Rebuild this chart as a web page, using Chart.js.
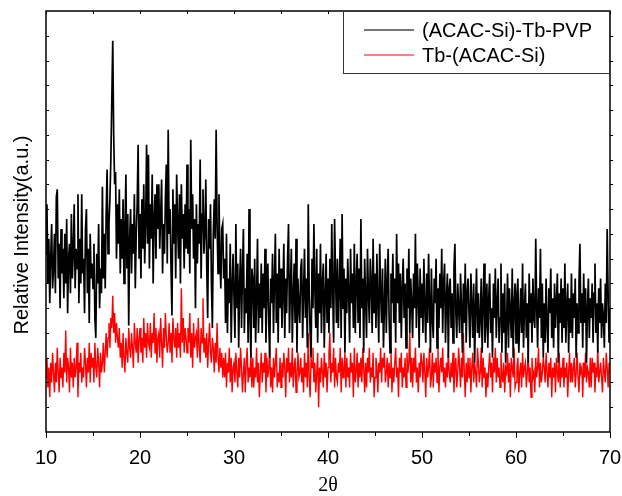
<!DOCTYPE html>
<html lang="en">
<head>
<meta charset="UTF-8">
<title>XRD (ACAC-Si)-Tb-PVP</title>
<script src="https://cdn.jsdelivr.net/npm/chart.js@4.4.1/dist/chart.umd.min.js"></script>
<style>
  body { margin: 0; background: #fff; }
  #wrap { width: 622px; height: 496px; }
</style>
</head>
<body>
<div id="wrap"><canvas id="xrd" width="622" height="496"></canvas></div>
<script>
// 2theta sampling: 10.0 .. 70.0 deg, one reading every 0.1 deg
const startAngle = 10;
const angleStep = 0.1;
const xTicks = [10, 20, 30, 40, 50, 60, 70];
const seriesNames = ['(ACAC-Si)-Tb-PVP', 'Tb-(ACAC-Si)'];
const seriesColors = ['#000000', '#ff0000'];

// (ACAC-Si)-Tb-PVP, one row per degree (arbitrary units)
const pvpCounts = [
  72, 92, 60, 78, 52, 70, 84, 58, 66, 80,
  56, 95, 98, 62, 76, 50, 82, 64, 74, 54,
  80, 60, 86, 48, 70, 76, 56, 88, 62, 72,
  92, 58, 74, 66, 96, 52, 78, 60, 96, 64,
  70, 48, 82, 90, 56, 74, 44, 80, 62, 68,
  58, 76, 46, 38, 72, 60, 84, 50, 66, 56,
  99, 62, 80, 58, 88, 106, 72, 84, 94, 110,
  134, 158, 120, 100, 105, 70, 92, 76, 98, 64,
  86, 70, 94, 60, 82, 104, 66, 88, 43, 78,
  90, 64, 84, 72, 96, 58, 80, 92, 116, 70,
  88, 62, 94, 74, 100, 68, 84, 116, 76, 112,
  66, 92, 78, 104, 60, 86, 96, 70, 100, 82,
  100, 74, 88, 102, 64, 84, 72, 94, 108, 68,
  122, 80, 90, 66, 47, 98, 76, 92, 62, 104,
  84, 70, 96, 60, 100, 78, 88, 66, 92, 74,
  108, 72, 90, 64, 118, 82, 96, 70, 86, 50,
  92, 68, 84, 76, 110, 62, 88, 98, 72, 80,
  102, 66, 46, 86, 74, 92, 60, 42, 80, 94,
  78, 122, 84, 64, 96, 70, 58, 82, 84, 62,
  70, 44, 80, 40, 62, 52, 76, 36, 58, 72,
  54, 38, 84, 50, 68, 34, 60, 74, 42, 64,
  82, 40, 58, 48, 72, 36, 90, 46, 30, 66,
  62, 42, 70, 36, 54, 78, 40, 60, 46, 68,
  40, 64, 50, 74, 36, 58, 68, 44, 30, 62,
  52, 72, 40, 60, 80, 44, 64, 36, 74, 50,
  66, 42, 56, 76, 38, 62, 48, 70, 84, 40,
  58, 74, 36, 54, 68, 44, 78, 32, 62, 50,
  44, 66, 70, 38, 56, 74, 46, 62, 34, 92,
  56, 40, 30, 70, 50, 84, 58, 42, 74, 36,
  64, 48, 76, 40, 60, 68, 34, 54, 72, 44,
  62, 40, 70, 50, 84, 56, 36, 86, 64, 44,
  70, 42, 58, 78, 38, 88, 50, 66, 32, 62,
  48, 70, 56, 36, 74, 52, 64, 42, 76, 40,
  60, 72, 44, 66, 38, 86, 50, 62, 32, 70,
  54, 38, 74, 56, 44, 70, 60, 40, 78, 48,
  64, 42, 72, 52, 36, 76, 56, 44, 66, 34,
  50, 70, 40, 60, 74, 46, 32, 64, 52, 72,
  44, 62, 36, 80, 52, 68, 44, 64, 38, 58,
  70, 46, 60, 34, 66, 50, 74, 40, 62, 52,
  38, 64, 50, 80, 42, 68, 56, 34, 66, 46,
  60, 40, 70, 50, 36, 64, 44, 72, 52, 32,
  66, 46, 38, 62, 52, 70, 34, 58, 42, 64,
  50, 74, 40, 60, 68, 36, 54, 64, 30, 58,
  62, 42, 56, 36, 66, 76, 48, 38, 60, 50,
  40, 64, 50, 32, 60, 44, 68, 36, 56, 62,
  48, 34, 64, 52, 38, 60, 28, 50, 66, 40,
  56, 38, 46, 62, 32, 52, 68, 36, 44, 60,
  34, 54, 64, 40, 50, 30, 60, 46, 66, 38,
  52, 62, 36, 46, 68, 32, 56, 40, 60, 28,
  44, 64, 34, 58, 48, 38, 66, 30, 52, 60,
  36, 56, 62, 32, 46, 58, 40, 68, 34, 50,
  60, 38, 52, 28, 64, 44, 56, 36, 62, 46,
  42, 78, 50, 34, 58, 46, 74, 38, 60, 30,
  52, 36, 62, 44, 32, 58, 48, 66, 38, 54,
  34, 60, 42, 52, 64, 28, 56, 44, 62, 36,
  58, 42, 68, 36, 50, 60, 32, 54, 40, 64,
  38, 56, 46, 62, 30, 52, 40, 60, 76, 44,
  56, 34, 64, 44, 58, 28, 50, 62, 38, 54,
  46, 60, 36, 56, 68, 40, 52, 32, 58, 44,
  62, 38, 52, 46, 34, 60, 44, 82, 56, 36,
  50
];

// Tb-(ACAC-Si), one row per degree (arbitrary units)
const tbCounts = [
  22, 30, 18, 26, 14, 28, 20, 32, 24, 16,
  28, 20, 34, 24, 16, 30, 22, 26, 18, 32,
  24, 41, 20, 30, 26, 16, 34, 22, 28, 18,
  30, 22, 26, 36, 14, 28, 24, 32, 20, 26,
  22, 34, 28, 18, 30, 24, 36, 20, 32, 26,
  30, 20, 36, 26, 22, 34, 28, 18, 32, 24,
  28, 36, 24, 32, 40, 30, 38, 44, 34, 46,
  42, 55, 40, 48, 36, 44, 38, 34, 42, 30,
  36, 26, 40, 30, 24, 38, 32, 28, 42, 34,
  30, 40, 34, 26, 44, 36, 32, 42, 28, 38,
  42, 32, 38, 28, 46, 34, 40, 30, 44, 36,
  34, 44, 30, 40, 36, 48, 32, 42, 28, 38,
  40, 30, 46, 36, 26, 42, 34, 48, 38, 32,
  36, 44, 32, 40, 28, 46, 38, 34, 42, 30,
  44, 34, 40, 30, 58, 36, 46, 32, 42, 38,
  32, 42, 36, 48, 30, 40, 26, 44, 34, 38,
  40, 30, 46, 34, 28, 42, 36, 54, 32, 38,
  30, 40, 26, 36, 44, 32, 28, 38, 34, 24,
  36, 28, 44, 30, 24, 34, 26, 32, 22, 30,
  22, 32, 18, 28, 24, 34, 20, 30, 16, 26,
  28, 20, 32, 24, 18, 30, 22, 34, 26, 16,
  24, 30, 16, 28, 34, 20, 26, 22, 32, 18,
  30, 18, 26, 22, 34, 20, 28, 14, 24, 32,
  20, 28, 24, 32, 16, 30, 22, 26, 34, 18,
  26, 16, 30, 22, 28, 34, 18, 24, 20, 30,
  18, 28, 22, 32, 26, 14, 30, 24, 34, 20,
  28, 22, 34, 18, 26, 30, 16, 24, 32, 22,
  24, 30, 20, 26, 16, 32, 22, 28, 18, 40,
  22, 14, 30, 26, 34, 20, 28, 16, 24, 32,
  10, 26, 20, 30, 24, 18, 32, 22, 28, 16,
  26, 32, 40, 20, 28, 24, 34, 18, 30, 22,
  20, 28, 24, 34, 16, 30, 22, 26, 32, 18,
  30, 22, 26, 18, 32, 24, 28, 14, 34, 20,
  24, 32, 18, 28, 22, 30, 20, 34, 26, 16,
  28, 18, 30, 24, 34, 20, 26, 22, 32, 14,
  22, 30, 26, 16, 28, 24, 34, 20, 30, 26,
  32, 20, 24, 30, 18, 28, 22, 34, 16, 26,
  20, 28, 34, 22, 26, 14, 30, 24, 32, 18,
  26, 22, 30, 18, 32, 24, 28, 40, 20, 30,
  18, 30, 24, 34, 20, 26, 16, 28, 22, 32,
  28, 20, 32, 24, 14, 30, 22, 26, 34, 18,
  22, 32, 18, 28, 24, 30, 20, 34, 16, 26,
  30, 24, 34, 20, 26, 18, 28, 22, 32, 24,
  20, 28, 22, 32, 16, 26, 30, 18, 24, 34,
  26, 18, 30, 22, 40, 24, 14, 28, 20, 30,
  22, 30, 16, 26, 32, 20, 28, 24, 18, 34,
  28, 20, 24, 34, 18, 30, 22, 26, 14, 24,
  18, 26, 32, 22, 28, 16, 30, 24, 34, 20,
  30, 22, 26, 18, 32, 24, 20, 28, 16, 26,
  24, 32, 20, 28, 14, 30, 26, 22, 34, 18,
  20, 26, 30, 16, 24, 28, 18, 32, 22, 26,
  28, 18, 24, 32, 20, 26, 14, 30, 22, 24,
  16, 30, 22, 26, 34, 18, 28, 20, 24, 30,
  26, 20, 32, 24, 18, 28, 22, 30, 14, 26,
  22, 28, 16, 30, 24, 20, 32, 18, 26, 22,
  30, 18, 26, 22, 28, 14, 24, 32, 20, 28,
  20, 26, 30, 18, 24, 32, 22, 16, 28, 24,
  26, 14, 28, 22, 32, 20, 26, 24, 18, 30,
  18, 30, 24, 28, 16, 26, 22, 34, 20, 24,
  28, 22, 16, 30, 24, 20, 32, 26, 18, 28,
  24
];

const sansFont = '"Liberation Sans", Arial, sans-serif';

function toPoints(counts) {
  return counts.map((v, i) => ({ x: +(startAngle + i * angleStep).toFixed(1), y: v }));
}

// frame, tick marks, boxed legend and y title
const framePlugin = {
  id: 'framePlugin',
  afterDraw(chart) {
    const { ctx, chartArea: a, scales: { x, y } } = chart;
    ctx.save();
    ctx.strokeStyle = '#000';
    ctx.lineWidth = 1.5;
    ctx.strokeRect(a.left, a.top, a.right - a.left, a.bottom - a.top);

    ctx.lineWidth = 1;
    ctx.beginPath();
    for (let v = 10; v <= 70; v += 5) {
      const px = Math.round(x.getPixelForValue(v)) + 0.5;
      ctx.moveTo(px, a.bottom);
      ctx.lineTo(px, a.bottom + (v % 10 === 0 ? 6 : 4));
      ctx.moveTo(px, a.top);
      ctx.lineTo(px, a.top + 3);
    }
    for (let v = 10; v < 170; v += 10) {
      const py = Math.round(y.getPixelForValue(v)) + 0.5;
      ctx.moveTo(a.left, py);
      ctx.lineTo(a.left + 3, py);
      ctx.moveTo(a.right, py);
      ctx.lineTo(a.right + 3, py);
    }
    ctx.stroke();

    // legend
    const bx = a.right - 267, by = a.top, bw = 267, bh = 62;
    ctx.fillStyle = '#fff';
    ctx.fillRect(bx, by, bw, bh);
    ctx.strokeStyle = '#333';
    ctx.lineWidth = 1;
    ctx.strokeRect(bx + 0.5, by + 0.5, bw - 1, bh);
    ctx.font = '20px ' + sansFont;
    ctx.textBaseline = 'middle';
    ctx.textAlign = 'left';
    chart.data.datasets.forEach((ds, i) => {
      const ly = by + 19 + i * 25;
      ctx.strokeStyle = i === 0 ? '#777' : ds.borderColor;
      ctx.lineWidth = i === 0 ? 2 : 1;
      ctx.beginPath();
      ctx.moveTo(bx + 21, ly);
      ctx.lineTo(bx + 71, ly);
      ctx.stroke();
      ctx.fillStyle = '#000';
      ctx.fillText(ds.label, bx + 79, ly + 1);
    });

    // y axis title
    ctx.translate(22, 235);
    ctx.rotate(-Math.PI / 2);
    ctx.textAlign = 'center';
    ctx.fillText('Relative Intensity(a.u.)', 0, 0);
    ctx.restore();
  }
};

new Chart(document.getElementById('xrd'), {
  type: 'line',
  data: {
    datasets: [
      { label: seriesNames[0], data: toPoints(pvpCounts), borderColor: seriesColors[0], borderWidth: 1.7, pointRadius: 0, tension: 0 },
      { label: seriesNames[1], data: toPoints(tbCounts), borderColor: seriesColors[1], borderWidth: 1.4, pointRadius: 0, tension: 0 }
    ]
  },
  options: {
    responsive: false,
    animation: false,
    events: [],
    layout: { padding: { top: 11, right: 12, left: 0, bottom: 0 } },
    plugins: { legend: { display: false }, tooltip: { enabled: false } },
    scales: {
      x: {
        type: 'linear', min: 10, max: 70,
        grid: { display: false, drawTicks: false },
        border: { display: false },
        afterBuildTicks: s => { s.ticks = xTicks.map(v => ({ value: v })); },
        afterFit: s => { s.height = 64; s.paddingLeft = 0; s.paddingRight = 0; },
        ticks: { color: '#000', font: { family: sansFont, size: 20 }, padding: 14, maxRotation: 0, autoSkip: false },
        title: {
          display: true, text: '2θ', color: '#000',
          font: { family: '"Liberation Serif", "Times New Roman", serif', size: 20, lineHeight: 1 },
          padding: { top: 0, bottom: 0 }
        }
      },
      y: {
        min: 0, max: 170,
        grid: { display: false, drawTicks: false },
        border: { display: false },
        ticks: { display: false },
        afterFit: s => { s.width = 46; s.paddingTop = 0; s.paddingBottom = 0; }
      }
    }
  },
  plugins: [framePlugin]
});
</script>
</body>
</html>
